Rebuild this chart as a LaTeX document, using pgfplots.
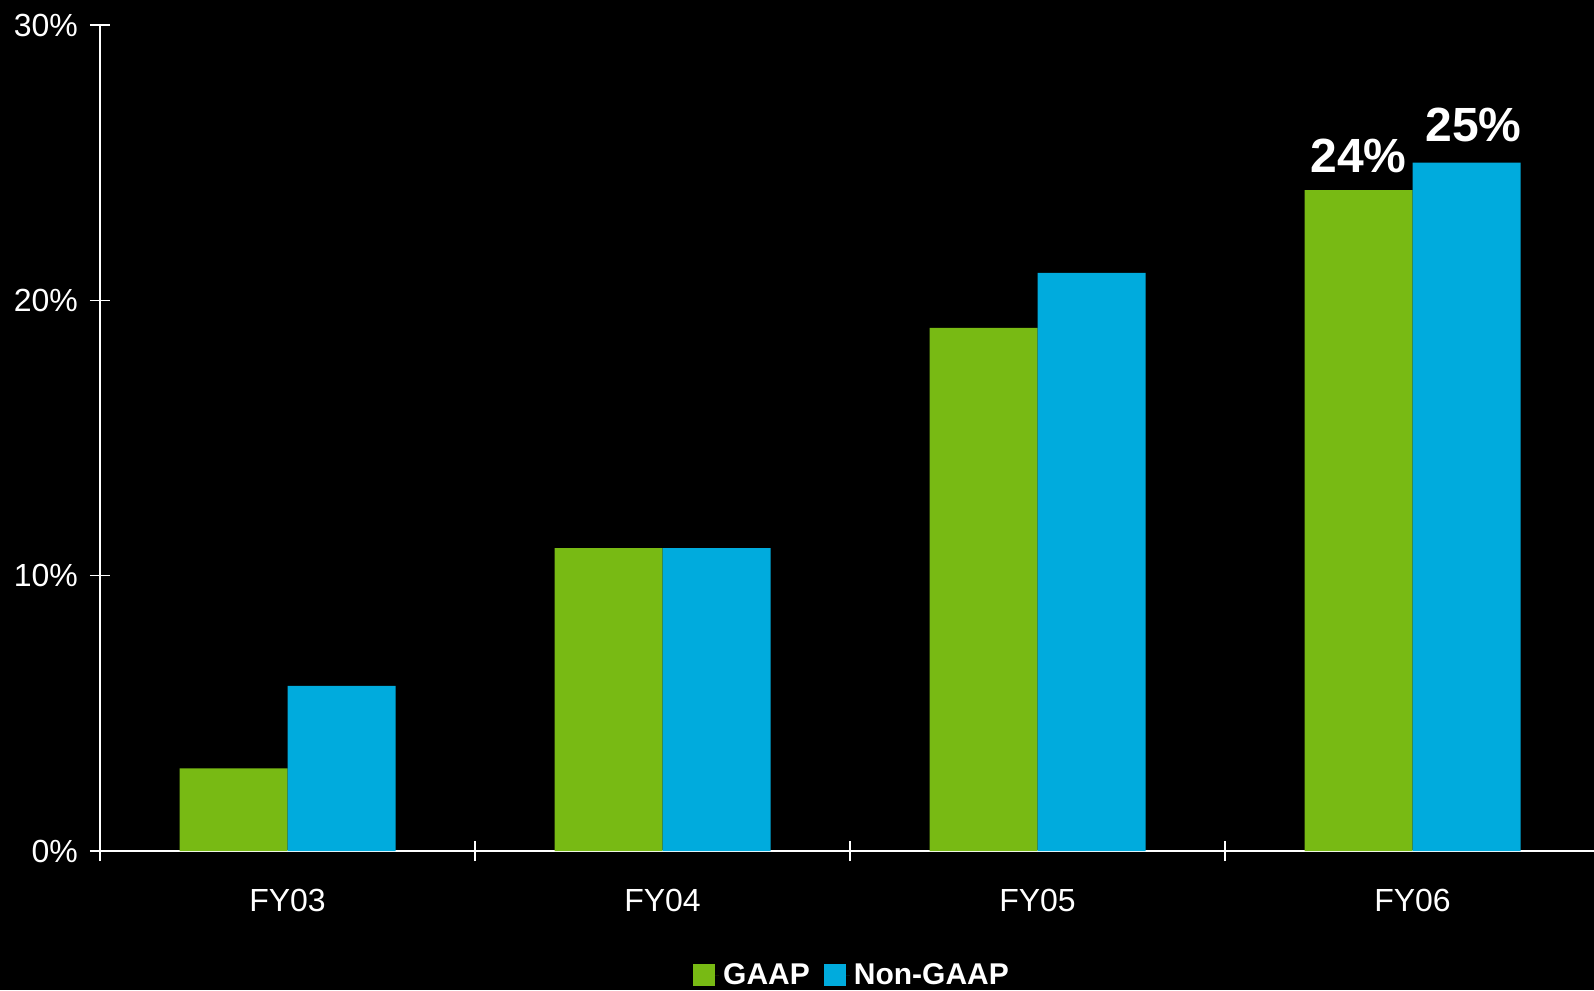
\documentclass[border=0pt]{standalone}
\usepackage{fontspec}
\setmainfont{Liberation Sans}
\usepackage{pgfplots}
\pgfplotsset{compat=1.18}
\definecolor{gaap}{HTML}{78BA14}
\definecolor{ngaap}{HTML}{00ABDD}
\begin{document}
\begin{tikzpicture}
\fill[black] (-50pt,-69.5pt) rectangle (747pt,425.5pt);
\begin{axis}[
  at={(0pt,0pt)}, anchor=south west,
  scale only axis, width=747pt, height=413pt,
  xmin=-0.5, xmax=3.484, ymin=0, ymax=30,
  axis lines*=left,
  axis line style={white, line width=1pt},
  ybar=0pt, bar width=54pt,
  ytick={0,10,20,30}, yticklabels={0\%,10\%,20\%,30\%},
  xtick={-0.5,0.5,1.5,2.5}, xticklabels={,,,},
  extra x ticks={0,1,2,3}, extra x tick labels={FY03,FY04,FY05,FY06},
  extra x tick style={major tick length=0pt},
  tick align=center,
  major tick length=10pt,
  tick style={white, line width=0.8pt},
  tick label style={white, font=\fontsize{16}{19}\selectfont},
  xticklabel style={yshift=-15.6pt},
  yticklabel style={xshift=-2.5pt},
  every node near coord/.append style={white, font=\bfseries\fontsize{24}{28}\selectfont, anchor=south},
  legend style={at={(0.5,0)}, anchor=north, yshift=-52pt, xshift=3pt, draw=none, fill=none, text=white,
    font=\bfseries\fontsize{15}{18}\selectfont, legend columns=2,
    /tikz/every even column/.append style={column sep=5pt}},
]
\addplot[fill=gaap, draw=none, nodes near coords, point meta=explicit symbolic,
  every node near coord/.append style={yshift=5pt},
  legend image code/.code={\path (0pt,0pt) -- (13pt,0pt); \fill[gaap] (0pt,-5.5pt) rectangle (11pt,5.5pt);}]
  coordinates {(0,3) [{}] (1,11) [{}] (2,19) [{}] (3,24) [24\%]};
\addlegendentry{GAAP}
\addplot[fill=ngaap, draw=none, nodes near coords, point meta=explicit symbolic,
  every node near coord/.append style={yshift=7pt, xshift=3.5pt},
  legend image code/.code={\path (0pt,0pt) -- (13pt,0pt); \fill[ngaap] (0pt,-5.5pt) rectangle (11pt,5.5pt);}]
  coordinates {(0,6) [{}] (1,11) [{}] (2,21) [{}] (3,25) [25\%]};
\addlegendentry{Non-GAAP}
\end{axis}
\pgfresetboundingbox
\path[use as bounding box] (-50pt,-69.5pt) rectangle (747pt,425.5pt);
\end{tikzpicture}
\end{document}
